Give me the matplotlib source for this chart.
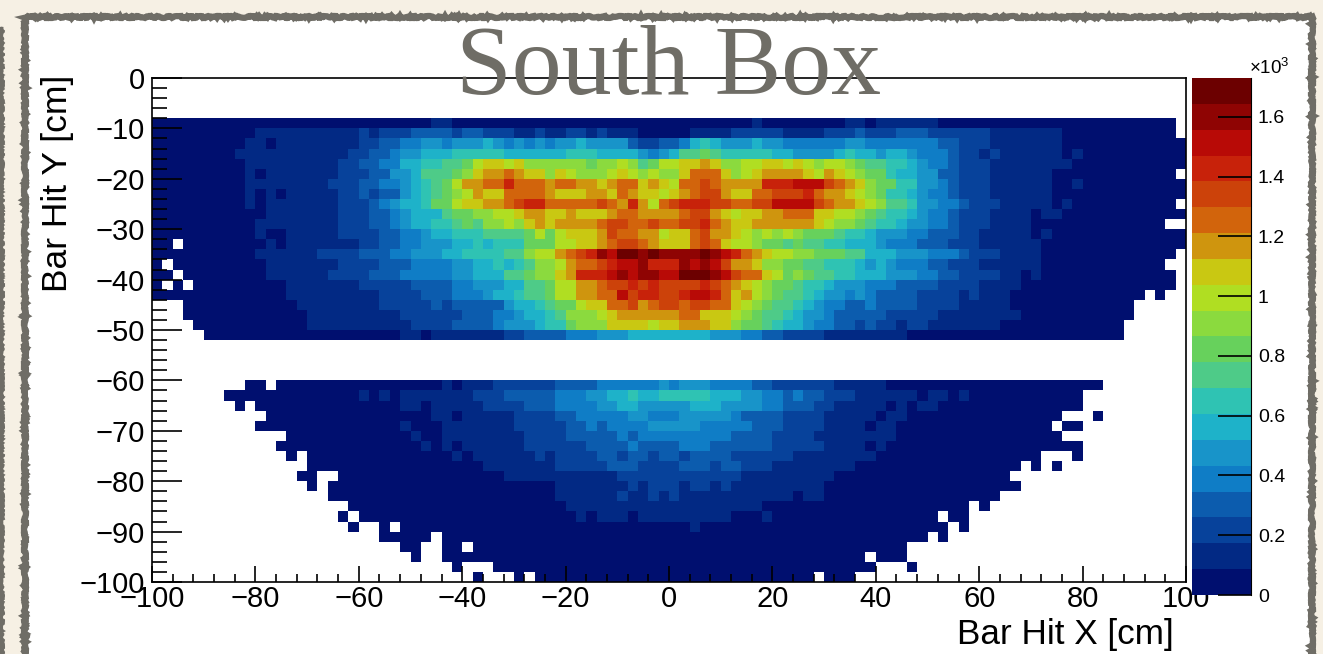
import numpy as np
import matplotlib
matplotlib.use("Agg")
import matplotlib.pyplot as plt
from matplotlib.colors import ListedColormap
from matplotlib.patches import Rectangle
from matplotlib.ticker import MultipleLocator

plt.rcParams['font.family'] = ['Liberation Sans', 'DejaVu Sans']

# palette bands of the z axis, lowest first
bands = ['#000f6f', '#022984', '#07429b', '#0c5cae', '#0f7dc6', '#1894c9', '#1eb2c9', '#2fc3b3',
         '#4ecb88', '#67d15c', '#8bda3e', '#b0de22', '#c9c812', '#cf950e', '#d2640c', '#cc420a',
         '#c8220a', '#b80a06', '#8f0403', '#6c0000']
zmax = 1730

cbar_ticks = [0, 200, 400, 600, 800, 1000, 1200, 1400, 1600]
cbar_labels = ['0', '0.2', '0.4', '0.6', '0.8', '1', '1.2', '1.4', '1.6']
x_ticks = [-100, -80, -60, -40, -20, 0, 20, 40, 60, 80, 100]
y_ticks = [-100, -90, -80, -70, -60, -50, -40, -30, -20, -10, 0]

# 2 cm bins, one char per bin (0-9a-j), '.' is an empty bin
# y from -8 down to -52
upper_rows = [
    "0000000000 0000000000 0000000110 0000000000 0000000000 0000000010 0000000110 1111110000 0000000000 000000000.",
    "0000000000 1111111111 2122233332 3322211211 2212111000 0011112222 2111122232 2233322222 2111111100 000000000.",
    "0000000001 1011111111 2233445545 5565454545 5655553223 3467655565 5444444554 4444443322 2111111100 0000000000",
    "0000000011 1111111112 2334556667 7777666666 7776666545 6889877777 6655556766 5665444322 1211111101 0000000000",
    "0000000001 1111111122 3344667788 9bccbcaaaa aa9aaba89b bccdcaabbc cbcbabba98 8776544322 2111111110 0000000000",
    "0000000001 0111111122 2335568889 acddedccac baaabcbaba aceeecabcd dddcbdcba9 9766553322 2111111000 000000000.",
    "0000000001 1111111222 334456789b ddeegeeede eddcdeecdc beefeddddg gghhhfedca 9977554322 2111111001 0000000000",
    "0000000001 0101111122 323356789a bdcceeeedc ccddcedccb cdeffdccee fffgeddcba 9776544322 2111111000 0000000000",
    "0000000001 0111111122 234566799b ccddefggee eeefedgdbe fgggffeeff hhhhfeddcb a887554432 2211111010 000000000.",
    "0000000000 0111111122 2334566689 9aabbcddcc dcccdeeddd deffdcbccd deeeccbba9 8776544322 2111101100 0000000000",
    "0000000000 1111111122 2334566778 98aabacdcd dddeffeefe effgedccdd ddddcbaa98 7765544322 2111100000 00000000..",
    "0000000000 1001111122 2233445667 7788889b9b cccdfeeddb ccefddcbab aba9998776 5554433322 1111101000 0000000000",
    "00.0000000 0101111111 2233445556 676777999b bccdeffedc ccefecbba9 9898877666 5444333222 1111110000 0000000000",
    "0000000000 1111112222 3334455566 777788abbd efgihjjiji iiijihgedc bbaa999886 6655544432 2211110000 000000000.",
    "0.00000000 0111111122 2233344445 5667678aab deefghhigg gihihfddca a998877765 6544433222 1111110000 00000000..",
    "00.0000000 0111111222 2333444445 5666889aac dggghihiih hjjjihfeec b9a9887766 6555443322 2211010000 000000000.",
    "0.0.000000 0001111111 2222233334 455566889b bddeffgfgf fffgfedcba 9987765554 4433332222 1111000000 000000000.",
    "0000000000 0001111111 1122223334 445667889b bddeehfggf fghhgecdba 9887655454 3333222212 1110000000 000000.0..",
    "...0000000 0000111111 1122222323 3333566789 9bcceefdef feffeecba9 8876544334 3333222211 1110000000 00000.....",
    "...0000000 0000011111 1111222222 3334456678 aaabcddddd deecccba98 8765543333 3222221111 1111000000 00000.....",
    "....000000 0000011111 1111122223 3334555677 9aaaccccbc cdddcca998 7665443323 2212211111 1100000000 0000......",
    ".....00000 0000000000 0000110111 1111223333 4445556666 6666555443 3222211111 1110000000 0000000000 0000......",
]

# y from -60 down to -100
lower_rows = [
    ".........0 0.00000000 0000000010 1112222223 3334444445 4555444433 2222221111 1000000000 0000000000 00........",
    ".......000 0000000000 1010111111 1222333334 4455667667 7777666554 4343322211 1111011010 0000000000 ..........",
    "........0. 0000000000 0000110111 1122223334 4445566555 5566655554 4333221111 1010110000 0000000000 ..........",
    ".......... .000000000 0000000110 1111122223 3444445544 4555554333 3222211111 0110000000 00000000.. .0........",
    ".......... 0000000000 0000100011 1111122222 3343444455 5554444433 3222211110 1100000000 0000000.00 ..........",
    ".......... ...0000000 0000010011 1111112222 3333343444 4444443333 2222111111 1100000000 00000000.. ..........",
    ".......... ..00000000 0000001010 1111112222 2233334333 3444333333 2222211110 1000000000 0000000000 ..........",
    ".......... ...0.00000 0000000001 0111111212 2223323323 3233332222 2211111111 0000000000 000000...0 ..........",
    ".......... .....00000 0000000000 0011111112 2222333222 2333233222 1111111100 0000000000 0000.0.0.. ..........",
    ".......... ....00..00 0000000000 0000111111 1111122222 2222222111 1111110000 0000000000 000....... ..........",
    ".......... .....0.000 0000000000 0000000001 1111112122 2122121111 1111100000 0000000000 0000...... ..........",
    ".......... .......000 0000000000 0000000001 1111121121 2111111111 1101100000 0000000000 00........ ..........",
    ".......... .........0 0000000000 0000000000 1111111111 1111111110 0000000000 000000000. 0......... ..........",
    ".......... ........0. 0000000000 0000000000 0101110111 1111110001 0000000000 000000.00. .......... ..........",
    ".......... .........0 ..0.000000 0000000000 0000000000 0010000000 0000000000 0000000.0. .......... ..........",
    ".......... .......... ..00000.00 0000000000 0000000000 0000000000 0000000000 00000.0... .......... ..........",
    ".......... .......... ....00..00 .000000000 0000000000 0000000000 0000000000 000....... .......... ..........",
    ".......... .......... .....0..00 0000000000 0000000000 0000000000 000000000. 000....... .......... ..........",
    ".......... .......... .........0 ...0000000 0000000000 0000000000 0000000000 ...0...... .......... ..........",
    ".......... .......... .......... .0...0.000 0000000000 0000000000 0000.000.. .......... .......... ..........",
]

W, H = 1323, 654


def px_x(x):
    return x / W


def px_y(y):
    return 1 - y / H


def pt(pixels):
    return pixels * 72 / 100


def fila(texto):
    texto = texto.replace(" ", "")
    assert len(texto) == 100, texto
    vals = []
    for c in texto:
        if c == ".":
            vals.append(np.nan)
        else:
            vals.append((int(c, 20) + 0.5) * zmax / len(bands))
    return vals


blank = "." * 100
rows = [blank] * 4 + upper_rows + [blank] * 4 + lower_rows
counts = np.ma.masked_invalid(np.array([fila(r) for r in rows]))

x_edges = np.arange(-100, 101, 2)
y_edges = np.arange(0, -101, -2)

fig = plt.figure(figsize=(W / 100, H / 100), dpi=100, facecolor='#f6f0e4')

# slide background: white panel with a rough grey border
grey = '#6f6d66'
panel = Rectangle((px_x(25), px_y(680)), px_x(1287), 663 / H, transform=fig.transFigure,
                  facecolor='white', edgecolor=grey, linewidth=4.5, zorder=-5)
panel.set_sketch_params(scale=1.0, length=5, randomness=16)
fig.add_artist(panel)
strip = Rectangle((px_x(-20), px_y(680)), px_x(23), 653 / H, transform=fig.transFigure,
                  facecolor=grey, edgecolor=grey, linewidth=1.5, zorder=-5)
strip.set_sketch_params(scale=1.0, length=5, randomness=16)
fig.add_artist(strip)

ax = fig.add_axes([px_x(152), px_y(582), px_x(1034), 504 / H])
ax.set_facecolor('white')
cmap = ListedColormap(bands)
mesh = ax.pcolormesh(x_edges, y_edges, counts, cmap=cmap, vmin=0, vmax=zmax, rasterized=True)
ax.set_xlim(-100, 100)
ax.set_ylim(-100, 0)
ax.set_xticks(x_ticks)
ax.set_yticks(y_ticks)
ax.xaxis.set_minor_locator(MultipleLocator(4))
ax.yaxis.set_minor_locator(MultipleLocator(2))
ax.tick_params(axis='x', which='major', direction='in', length=pt(16), width=1.2, labelsize=21, pad=2)
ax.tick_params(axis='x', which='minor', direction='in', length=pt(8), width=1.2)
ax.tick_params(axis='y', which='major', direction='in', length=pt(30), width=1.2, labelsize=21, pad=5)
ax.tick_params(axis='y', which='minor', direction='in', length=pt(15), width=1.2)
ax.set_axisbelow(False)
for s in ax.spines.values():
    s.set_linewidth(1.2)

fig.text(px_x(1174), px_y(644), 'Bar Hit X [cm]', ha='right', va='baseline', fontsize=25.3)
fig.text(px_x(41), px_y(75), 'Bar Hit Y [cm]', ha='right', va='top', rotation=90,
         rotation_mode='anchor', fontsize=25.5)

# z axis
cax = fig.add_axes([px_x(1192), px_y(595), px_x(59), 517 / H])
cb = fig.colorbar(mesh, cax=cax, ticks=cbar_ticks)
cb.ax.set_yticklabels(cbar_labels)
cb.ax.tick_params(direction='in', length=pt(33), width=1.2, labelsize=14, pad=5, right=True, left=False)
cb.ax.minorticks_off()
cb.outline.set_visible(False)
cb.ax.spines['right'].set_visible(True)
fig.text(px_x(1249), px_y(74), '×10$^{\\mathregular{3}}$', fontsize=13.5, ha='left', va='baseline')

fig.text(px_x(669), px_y(94), 'South Box', ha='center', va='baseline', fontsize=72,
         family=['Liberation Serif', 'DejaVu Serif'], color=grey, zorder=10)

fig.savefig('out.png', dpi=100, facecolor=fig.get_facecolor())
